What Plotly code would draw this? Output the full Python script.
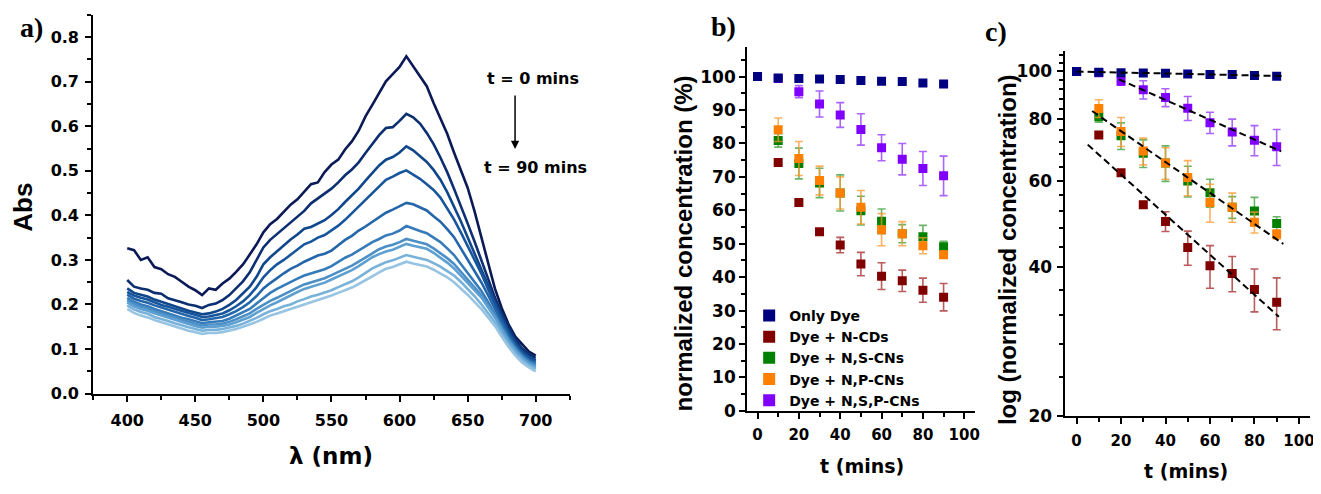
import numpy as np
import plotly.graph_objects as go

# page body has an 8px default margin: figure is drawn 8px in from the window corner
OFF = 8
W, H = 1321 - OFF, 494 - OFF
def px(x): return (x - OFF) / W
def py(y): return 1 - (y - OFF) / H

# ---------------- Panel a: absorbance spectra (t = 0 ... 90 min) ----------------
wavelength = list(range(400, 701, 5))
abs_t0 = [.326, .322, .300, .306, .284, .279, .268, .262, .251, .240, .232, .221, .236, .233, .247, .258,
          .273, .290, .312, .335, .362, .380, .392, .409, .424, .436, .452, .470, .474, .497, .514, .525,
          .548, .566, .590, .622, .648, .676, .701, .717, .733, .757, .734, .712, .690, .652, .617, .583,
          .541, .503, .462, .410, .354, .295, .236, .192, .156, .128, .110, .094, .085]
abs_t10 = [.255, .240, .236, .233, .226, .224, .214, .210, .205, .200, .197, .192, .199, .202, .210, .221,
           .236, .252, .272, .300, .328, .345, .358, .370, .384, .396, .410, .427, .438, .448, .460, .474,
           .490, .503, .519, .540, .560, .580, .596, .598, .612, .628, .620, .606, .585, .560, .530, .497,
           .460, .423, .382, .342, .300, .258, .216, .180, .150, .122, .101, .088, .080]
abs_t20 = [.236, .226, .222, .218, .211, .206, .200, .196, .190, .186, .182, .178, .180, .184, .190, .199,
           .210, .224, .240, .262, .290, .306, .320, .333, .346, .357, .370, .374, .381, .389, .401, .414,
           .430, .444, .460, .478, .495, .512, .525, .531, .541, .555, .546, .534, .520, .502, .480, .452,
           .421, .387, .351, .316, .281, .243, .206, .172, .141, .115, .096, .083, .075]
abs_t30 = [.228, .220, .215, .211, .205, .199, .195, .190, .185, .181, .177, .172, .173, .176, .180, .187,
           .196, .207, .221, .239, .261, .277, .290, .300, .311, .323, .335, .341, .350, .356, .366, .377,
           .390, .405, .420, .434, .450, .466, .480, .487, .495, .501, .491, .482, .470, .457, .440, .417,
           .391, .362, .331, .301, .270, .235, .200, .166, .136, .111, .091, .079, .072]
abs_t40 = [.222, .213, .208, .204, .198, .193, .188, .183, .178, .174, .170, .165, .167, .169, .172, .178,
           .185, .194, .205, .219, .236, .248, .260, .270, .280, .287, .296, .303, .310, .314, .321, .333,
           .345, .354, .366, .375, .386, .396, .406, .413, .420, .428, .425, .418, .411, .398, .386, .369,
           .351, .326, .301, .276, .250, .221, .190, .159, .130, .107, .088, .076, .068]
abs_t50 = [.215, .206, .200, .196, .190, .185, .180, .175, .170, .167, .163, .158, .160, .161, .163, .168,
           .175, .182, .190, .202, .215, .226, .235, .243, .250, .258, .265, .270, .275, .279, .286, .296,
           .305, .312, .321, .331, .340, .347, .355, .359, .366, .376, .370, .365, .360, .350, .340, .326,
           .311, .291, .271, .252, .231, .206, .180, .152, .125, .103, .085, .073, .065]
abs_t60 = [.210, .201, .195, .191, .185, .180, .175, .170, .165, .161, .157, .153, .155, .155, .157, .161,
           .167, .173, .180, .190, .200, .208, .215, .223, .230, .238, .245, .250, .255, .259, .266, .273,
           .281, .287, .296, .306, .316, .324, .330, .334, .340, .347, .343, .339, .335, .326, .316, .304,
           .291, .273, .256, .239, .221, .199, .175, .147, .121, .100, .082, .070, .062]
abs_t70 = [.205, .196, .190, .186, .180, .175, .170, .165, .160, .156, .152, .148, .150, .150, .152, .155,
           .160, .166, .172, .181, .190, .198, .205, .213, .220, .228, .235, .240, .245, .249, .256, .263,
           .271, .277, .286, .296, .306, .313, .319, .323, .330, .336, .332, .329, .325, .316, .306, .294,
           .281, .265, .249, .233, .216, .194, .171, .144, .118, .097, .080, .067, .058]
abs_t80 = [.198, .189, .183, .179, .172, .168, .163, .158, .153, .149, .145, .141, .143, .143, .145, .148,
           .152, .157, .163, .170, .178, .185, .190, .196, .200, .207, .212, .218, .222, .227, .232, .239,
           .246, .252, .261, .271, .281, .288, .295, .299, .305, .311, .307, .304, .300, .293, .285, .275,
           .265, .251, .236, .219, .201, .181, .160, .135, .111, .091, .075, .063, .055]
abs_t90 = [.190, .181, .175, .171, .165, .160, .155, .150, .145, .141, .138, .134, .136, .136, .138, .141,
           .145, .150, .155, .161, .168, .175, .180, .185, .190, .195, .200, .205, .210, .214, .220, .226,
           .232, .238, .246, .254, .263, .272, .280, .284, .290, .296, .292, .289, .285, .278, .270, .261,
           .250, .237, .222, .206, .190, .171, .152, .128, .105, .086, .070, .059, .050]
spectra = [abs_t0, abs_t10, abs_t20, abs_t30, abs_t40, abs_t50, abs_t60, abs_t70, abs_t80, abs_t90]
spectra_colors = ["#0b1a57", "#0c2f72", "#10468a", "#17569c", "#2366a9", "#367bb9",
                  "#4b8fc6", "#5d9fd0", "#78b2da", "#97c4e3"]

# ---------------- Panels b, c: degradation kinetics ----------------
time_min = [0, 10, 20, 30, 40, 50, 60, 70, 80, 90]
only_dye = [100, 99.6, 99.4, 99.3, 99.1, 98.8, 98.6, 98.5, 98.1, 97.8]
n_cds = [100, 74.3, 62.3, 53.6, 49.6, 43.9, 40.3, 38.9, 36.1, 34.0]
ns_cns = [100, 80.9, 74.0, 68.2, 65.2, 59.9, 56.7, 53.0, 52.1, 49.1]
np_cns = [100, 84.1, 75.5, 68.9, 65.2, 60.9, 54.2, 53.0, 49.4, 46.7]
nsp_cns = [100, 99.4, 95.5, 91.8, 88.5, 84.2, 78.7, 75.3, 72.5, 70.3]

only_dye_err = [0, 0.2, 0.2, 0.2, 0.2, 0.2, 0.2, 0.2, 0.2, 0.2]
n_cds_err = [0, 0.8, 0.8, 0.8, 2.3, 3.5, 4.0, 3.2, 3.6, 4.1]
ns_cns_err = [0, 2.0, 4.6, 4.4, 5.4, 4.3, 3.7, 2.7, 3.4, 1.6]
np_cns_err = [0, 3.5, 5.1, 4.3, 4.8, 5.0, 4.8, 3.6, 2.4, 1.0]
nsp_cns_err = [0, 0.5, 1.8, 3.9, 3.7, 4.7, 3.9, 4.7, 5.1, 5.9]

series_names = ["Only Dye", "Dye + N-CDs", "Dye + N,S-CNs", "Dye + N,P-CNs", "Dye + N,S,P-CNs"]
series_values = [only_dye, n_cds, ns_cns, np_cns, nsp_cns]
series_errors = [only_dye_err, n_cds_err, ns_cns_err, np_cns_err, nsp_cns_err]
series_colors = ["#000080", "#800000", "#008000", "#ff8000", "#8000ff"]
error_colors = ["#000080", "rgba(170,50,50,0.8)", "rgba(40,150,40,0.7)",
                "rgba(255,150,40,0.75)", "rgba(150,60,255,0.8)"]
draw_order = [1, 2, 3, 4, 0]

# first-order fits (panel c): series used, first fitted time, drawn span
fit_sources = [only_dye, n_cds, np_cns, nsp_cns]
fit_first_t = [0, 10, 10, 20]
fit_span = [(0, 93), (5, 91), (7, 93), (19, 92)]

TICKFONT = dict(family="DejaVu Sans", size=16, color="black", weight="bold")
TICKFONT_BY = dict(family="DejaVu Sans", size=17, color="black", weight="bold")
TICKFONT_BX = dict(family="DejaVu Sans", size=15, color="black", weight="bold")

fig = go.Figure()

for vals, col, t in zip(spectra, spectra_colors, range(0, 100, 10)):
    fig.add_trace(go.Scatter(x=wavelength, y=vals, mode="lines", line=dict(color=col, width=2.6),
                             showlegend=False, name=f"t = {t} mins", xaxis="x", yaxis="y"))

for panel, (xa, ya) in enumerate([("x2", "y2"), ("x3", "y3")]):
    for i in draw_order:
        fig.add_trace(go.Scatter(
            x=time_min, y=series_values[i], mode="markers", name=series_names[i],
            marker=dict(symbol="square", size=9, color=series_colors[i]),
            error_y=dict(type="data", array=series_errors[i], color=error_colors[i],
                         thickness=1.6, width=4),
            showlegend=(panel == 0), legendrank=i + 1, xaxis=xa, yaxis=ya))

for src, t_first, (t0, t1) in zip(fit_sources, fit_first_t, fit_span):
    tt = np.array([t for t in time_min if t >= t_first], dtype=float)
    yy = np.array([v for t, v in zip(time_min, src) if t >= t_first], dtype=float)
    slope, icpt = np.polyfit(tt, np.log(yy), 1)
    xs = np.array([t0, t1], dtype=float)
    fig.add_trace(go.Scatter(x=xs, y=np.exp(icpt + slope * xs), mode="lines",
                             line=dict(color="black", width=2, dash="7px,4px"),
                             showlegend=False, xaxis="x3", yaxis="y3"))

axis_common = dict(showline=True, linecolor="black", linewidth=2, ticks="outside", ticklen=6,
                   tickwidth=2, tickcolor="black", showgrid=False, zeroline=False, mirror=False)
minor_common = dict(ticks="outside", ticklen=4, tickwidth=2, tickcolor="black")

fig.update_layout(
    width=W, height=H, margin=dict(l=0, r=0, t=0, b=0),
    paper_bgcolor="white", plot_bgcolor="white",
    xaxis=dict(domain=[px(93.5), px(571.9)], range=[375, 725], anchor="y", tick0=400, dtick=50,
               tickfont=TICKFONT, ticklabelstandoff=5,
               minor=dict(dtick=25, tick0=375, **minor_common), **axis_common),
    yaxis=dict(domain=[py(401.7), py(15)], range=[0, 0.85], anchor="x", dtick=0.1, tickformat=".1f",
               tickfont=TICKFONT, ticklabelstandoff=3,
               minor=dict(dtick=0.05, **minor_common), **axis_common),
    xaxis2=dict(domain=[px(750), px(978.3)], range=[-5, 105], anchor="y2", tick0=0, dtick=20,
                tickfont=TICKFONT_BX, ticklabelstandoff=3,
                minor=dict(dtick=10, tick0=0, **minor_common), **axis_common),
    yaxis2=dict(domain=[py(419.3), py(48)], range=[0, 108.8], anchor="x2", dtick=10,
                tickfont=TICKFONT_BY, minor=dict(dtick=5, **minor_common), **axis_common),
    xaxis3=dict(domain=[px(1069.5), px(1315)], range=[-5, 105], anchor="y3", tick0=0, dtick=20,
                tickfont=TICKFONT_BX, ticklabelstandoff=4,
                minor=dict(dtick=10, tick0=0, **minor_common), **axis_common),
    yaxis3=dict(domain=[py(424.3), py(51.7)], type="log", range=[np.log10(20), np.log10(110.1)],
                anchor="x3", tickmode="array", tickvals=[20, 40, 60, 80, 100],
                ticktext=["20", "40", "60", "80", "100"], tickfont=TICKFONT_BY, ticklabelstandoff=2,
                minor=dict(tickmode="array",
                           tickvals=[24, 28, 32, 36, 44, 48, 52, 56, 64, 68, 72, 76, 84, 88, 92, 96,
                                     104, 108], **minor_common),
                **axis_common),
    legend=dict(x=px(752), y=py(306), xanchor="left", yanchor="top", bgcolor="rgba(0,0,0,0)",
                font=dict(family="DejaVu Sans", size=14, color="black", weight="bold"),
                itemsizing="constant", tracegroupgap=0),
)

def text_ann(txt, x, y, size, family="DejaVu Sans", angle=0, weight="bold"):
    fig.add_annotation(text=txt, x=px(x), y=py(y), xref="paper", yref="paper", showarrow=False,
                       xanchor="center", yanchor="middle", textangle=angle,
                       font=dict(family=family, size=size, color="black", weight=weight))

# panel labels
text_ann("a)", 32, 28, 28, family="Liberation Serif")
text_ann("b)", 726, 27, 28, family="Liberation Serif")
text_ann("c)", 1000, 32, 28, family="Liberation Serif")
# axis titles
text_ann("Abs", 23, 211, 26, family="Liberation Sans", angle=-90)
text_ann("λ (nm)", 332, 465, 23)
text_ann("normalized concentration (%)", 686, 248, 24, family="Liberation Sans", angle=-90)
text_ann("t (mins)", 865, 476, 19)
text_ann("log (normalized concentration)", 1012, 255, 24, family="Liberation Sans", angle=-90)
text_ann("t (mins)", 1191, 481, 19)
# time annotation in panel a
text_ann("t = 0 mins", 535, 80, 16)
text_ann("t = 90 mins", 538, 171, 16)
fig.add_annotation(x=px(517), y=py(152), xref="paper", yref="paper", text="", showarrow=True,
                   ax=0, ay=-55, arrowhead=2, arrowsize=1.1, arrowwidth=1.5, arrowcolor="black")

fig.write_html("out.html")
